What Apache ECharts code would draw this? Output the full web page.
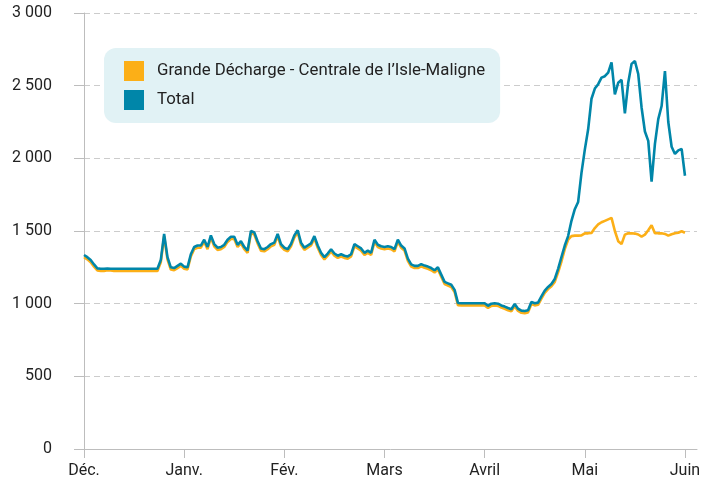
<!DOCTYPE html>
<html>
<head>
<meta charset="utf-8">
<script src="https://cdn.jsdelivr.net/npm/echarts@6/dist/echarts.min.js"></script>
<style>
  html, body { margin: 0; padding: 0; background: #fff; }
  #chart { width: 715px; height: 485px; }
</style>
</head>
<body>
<div id="chart"></div>
<script>
// Month labels, one every 30 days from Dec. 1
const monthLabels = ['Déc.', 'Janv.', 'Fév.', 'Mars', 'Avril', 'Mai', 'Juin']
const monthTicks = [0, 30, 60, 90, 120, 150, 180]
const yTicks = [0, 500, 1000, 1500, 2000, 2500, 3000]

const seriesNames = ['Grande Décharge - Centrale de l\u2019Isle-Maligne', 'Total']

// daily flow values
const grandeDecharge = [
  1320, 1305, 1285, 1255, 1228, 1225, 1225, 1230, 1228, 1225,
  1225, 1225, 1225, 1225, 1225, 1225, 1225, 1225, 1225, 1225,
  1225, 1225, 1225, 1285, 1465, 1305, 1235, 1230, 1245, 1260,
  1240, 1235, 1325, 1375, 1385, 1385, 1425, 1375, 1455, 1395,
  1370, 1375, 1390, 1425, 1445, 1445, 1390, 1415, 1375, 1350,
  1485, 1475, 1415, 1365, 1360, 1375, 1395, 1405, 1465, 1395,
  1370, 1360, 1395, 1455, 1490, 1405, 1370, 1385, 1400, 1450,
  1385, 1335, 1305, 1330, 1360, 1330, 1315, 1325, 1315, 1310,
  1325, 1395, 1380, 1365, 1335, 1350, 1335, 1425, 1390, 1380,
  1375, 1380, 1375, 1360, 1425, 1385, 1365, 1295, 1255, 1245,
  1245, 1257, 1247, 1240, 1230, 1215, 1235, 1185, 1135, 1125,
  1115, 1080, 990, 988, 988, 988, 988, 988, 988, 988,
  988, 970, 985, 988, 985, 973, 965, 955, 947, 983,
  950, 937, 935, 940, 997, 988, 992, 1035, 1075, 1100,
  1120, 1150, 1215, 1290, 1375, 1440, 1465, 1468, 1468, 1470,
  1484, 1484, 1487, 1520, 1545, 1560, 1570, 1580, 1590, 1500,
  1430, 1410, 1475, 1484, 1484, 1482, 1476, 1462, 1475, 1505,
  1540, 1485, 1484, 1484, 1480, 1468, 1478, 1485, 1488, 1498,
  1488
]

const total = [
  1335, 1320, 1300, 1270, 1243, 1240, 1240, 1242, 1240, 1240,
  1240, 1240, 1240, 1240, 1240, 1240, 1240, 1240, 1240, 1240,
  1240, 1240, 1240, 1300, 1480, 1320, 1250, 1245, 1260, 1275,
  1255, 1250, 1340, 1390, 1400, 1400, 1440, 1390, 1470, 1410,
  1385, 1390, 1405, 1440, 1460, 1460, 1405, 1430, 1390, 1365,
  1500, 1490, 1430, 1380, 1375, 1390, 1410, 1420, 1480, 1410,
  1385, 1375, 1410, 1470, 1505, 1420, 1385, 1400, 1415, 1465,
  1400, 1350, 1320, 1345, 1375, 1345, 1330, 1340, 1330, 1325,
  1340, 1410, 1395, 1380, 1350, 1365, 1350, 1440, 1405, 1395,
  1390, 1395, 1390, 1375, 1440, 1400, 1380, 1310, 1270, 1260,
  1260, 1272, 1262, 1255, 1245, 1230, 1250, 1200, 1150, 1140,
  1130, 1095, 1005, 1003, 1003, 1003, 1003, 1003, 1003, 1003,
  1003, 985, 1000, 1003, 1000, 988, 980, 970, 962, 998,
  965, 952, 950, 955, 1012, 1003, 1007, 1050, 1090, 1115,
  1135, 1170, 1240, 1320, 1400, 1465, 1570, 1650, 1700, 1900,
  2060, 2200, 2410, 2480, 2510, 2555, 2565, 2590, 2660, 2440,
  2520, 2540, 2310, 2520, 2650, 2670, 2580, 2350, 2185, 2120,
  1840, 2100, 2270, 2360, 2600, 2250, 2080, 2030, 2055, 2065,
  1880
]

const colors = ['#fcaf17', '#0086a9']
const font = 'Roboto, "Noto Sans", sans-serif'
const gray = '#bdbdbd'

const chart = echarts.init(document.getElementById('chart'), null, { renderer: 'canvas' })

function withSpaces(v) {
  return String(v).replace(/\B(?=(\d{3})+(?!\d))/g, ' ')
}

const option = {
  backgroundColor: '#ffffff',
  animation: false,
  textStyle: { fontFamily: font },
  grid: { left: 84, right: 18, top: 13, bottom: 36, containLabel: false },
  legend: {
    data: seriesNames,
    orient: 'vertical',
    left: 104,
    top: 48,
    padding: [13, 15, 13, 20],
    itemGap: 9,
    itemWidth: 20,
    itemHeight: 20,
    icon: 'rect',
    backgroundColor: '#e1f2f5',
    borderRadius: 12,
    selectedMode: false,
    textStyle: { fontSize: 16.8, color: '#222', fontFamily: font, padding: [0, 0, 0, 8] },
  },
  xAxis: {
    type: 'value',
    min: 0,
    max: 183.6,
    axisLine: { show: true, lineStyle: { color: gray, width: 1 } },
    axisTick: { show: true, length: 9, lineStyle: { color: gray }, customValues: monthTicks },
    axisLabel: {
      customValues: monthTicks,
      margin: 14,
      fontSize: 16,
      color: '#222',
      fontFamily: font,
      formatter: (v) => monthLabels[Math.round(v / 30)] || '',
    },
    splitLine: { show: false },
  },
  yAxis: {
    type: 'value',
    min: 0,
    max: 3000,
    interval: 500,
    axisLine: { show: true, lineStyle: { color: gray, width: 1 } },
    axisTick: { show: true, length: 10, lineStyle: { color: gray } },
    axisLabel: {
      margin: 32,
      fontSize: 16,
      color: '#222',
      fontFamily: font,
      formatter: (v) => withSpaces(v),
    },
    splitLine: { show: true, lineStyle: { color: '#cccccc', type: [6, 4], width: 1 } },
  },
  series: [
    {
      name: seriesNames[0],
      type: 'line',
      data: grandeDecharge.map((v, i) => [i, v]),
      showSymbol: false,
      lineStyle: { width: 2.6, color: colors[0] },
      itemStyle: { color: colors[0] },
      z: 2,
    },
    {
      name: seriesNames[1],
      type: 'line',
      data: total.map((v, i) => [i, v]),
      showSymbol: false,
      lineStyle: { width: 2.6, color: colors[1] },
      itemStyle: { color: colors[1] },
      z: 3,
    },
  ],
}

chart.setOption(option)
</script>
</body>
</html>
